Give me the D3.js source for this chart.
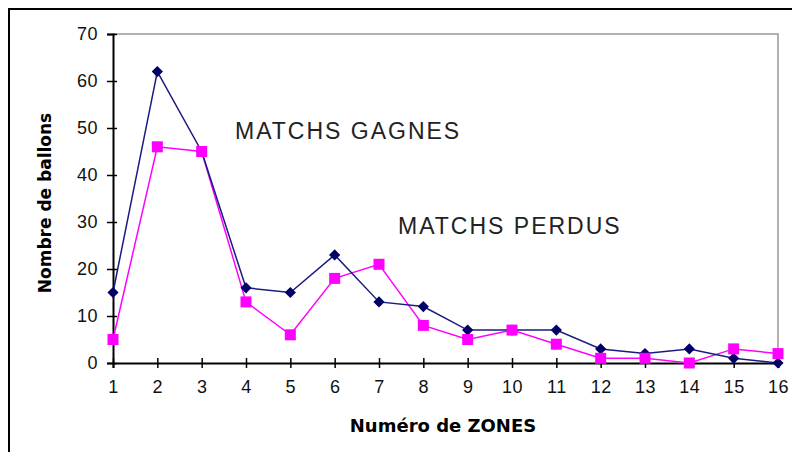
<!DOCTYPE html>
<meta charset="utf-8">
<style>
body { margin: 0; background: #fff; }
text { font-family: "Liberation Sans", Arial, sans-serif; }
</style>
<svg width="792" height="452"></svg>
<script src="https://cdnjs.cloudflare.com/ajax/libs/d3/7.8.5/d3.min.js"></script>
<script>

// Data
var zones = [1, 2, 3, 4, 5, 6, 7, 8, 9, 10, 11, 12, 13, 14, 15, 16];
var gagnes = [15, 62, 45, 16, 15, 23, 13, 12, 7, 7, 7, 3, 2, 3, 1, 0];
var perdus = [5, 46, 45, 13, 6, 18, 21, 8, 5, 7, 4, 1, 1, 0, 3, 2];
var yTicks = [0, 10, 20, 30, 40, 50, 60, 70];

var svg = d3.select("svg");

// outer frame
svg.append("rect")
    .attr("x", 9).attr("y", 9)
    .attr("width", 800).attr("height", 460)
    .attr("fill", "none").attr("stroke", "#000").attr("stroke-width", 2);

var x = d3.scaleLinear().domain([1, 16]).range([113, 778]);
var y = d3.scaleLinear().domain([0, 70]).range([363, 34]);

// plot area border (top / right, grey)
svg.append("path")
    .attr("d", "M" + x(1) + "," + y(70) + "H" + x(16) + "V" + y(0))
    .attr("fill", "none").attr("stroke", "#999").attr("stroke-width", 1.5);

// y axis
var yAxis = svg.append("g")
    .attr("transform", "translate(" + x(1) + ",0)")
    .call(d3.axisLeft(y).tickValues(yTicks).tickSize(6).tickPadding(9));
yAxis.selectAll(".tick line").attr("x1", 4);

// x axis
var xAxis = svg.append("g")
    .attr("transform", "translate(0," + y(0) + ")")
    .call(d3.axisBottom(x).tickValues(zones).tickFormat(d3.format("d")).tickSize(5).tickPadding(12));
xAxis.selectAll(".tick line").attr("y1", -5);

svg.selectAll(".domain").attr("stroke", "#000").attr("stroke-width", 2);
svg.selectAll(".tick line").attr("stroke", "#000").attr("stroke-width", 1.5);
svg.selectAll(".tick text")
    .attr("fill", "#111")
    .style("font-size", "18px")
    .style("letter-spacing", "0.5px")
    .style("font-family", "Liberation Sans, Arial, sans-serif");

// lines
var line = d3.line()
    .x(function(d, i) { return x(zones[i]); })
    .y(function(d) { return y(d); });

svg.append("path").datum(perdus)
    .attr("d", line).attr("fill", "none")
    .attr("stroke", "#ff00ff").attr("stroke-width", 1.5);

svg.append("path").datum(gagnes)
    .attr("d", line).attr("fill", "none")
    .attr("stroke", "#1a1a80").attr("stroke-width", 1.5);

// markers
svg.append("g").selectAll("path")
    .data(gagnes)
    .enter().append("path")
    .attr("d", d3.symbol().type(d3.symbolDiamond2).size(80))
    .attr("transform", function(d, i) { return "translate(" + x(zones[i]) + "," + y(d) + ")"; })
    .attr("fill", "#000066");

svg.append("g").selectAll("rect")
    .data(perdus)
    .enter().append("rect")
    .attr("x", function(d, i) { return x(zones[i]) - 5.5; })
    .attr("y", function(d) { return y(d) - 5.5; })
    .attr("width", 11).attr("height", 11)
    .attr("fill", "#ff00ff");

// series labels
svg.append("text")
    .attr("x", 235).attr("y", 139)
    .style("font-size", "23px").style("letter-spacing", "2px")
    .attr("fill", "#222")
    .text("MATCHS GAGNES");

svg.append("text")
    .attr("x", 398).attr("y", 234)
    .style("font-size", "23px").style("letter-spacing", "2px")
    .attr("fill", "#222")
    .text("MATCHS PERDUS");

// axis titles
svg.append("text")
    .attr("transform", "translate(51,203) rotate(-90)")
    .attr("text-anchor", "middle")
    .style("font-family", "DejaVu Sans, sans-serif")
    .style("font-size", "17px").style("font-weight", "bold")
    .text("Nombre de ballons");

svg.append("text")
    .attr("x", 443).attr("y", 432)
    .attr("text-anchor", "middle")
    .style("font-family", "DejaVu Sans, sans-serif")
    .style("font-size", "18px").style("font-weight", "bold")
    .text("Numéro de ZONES");

</script>
